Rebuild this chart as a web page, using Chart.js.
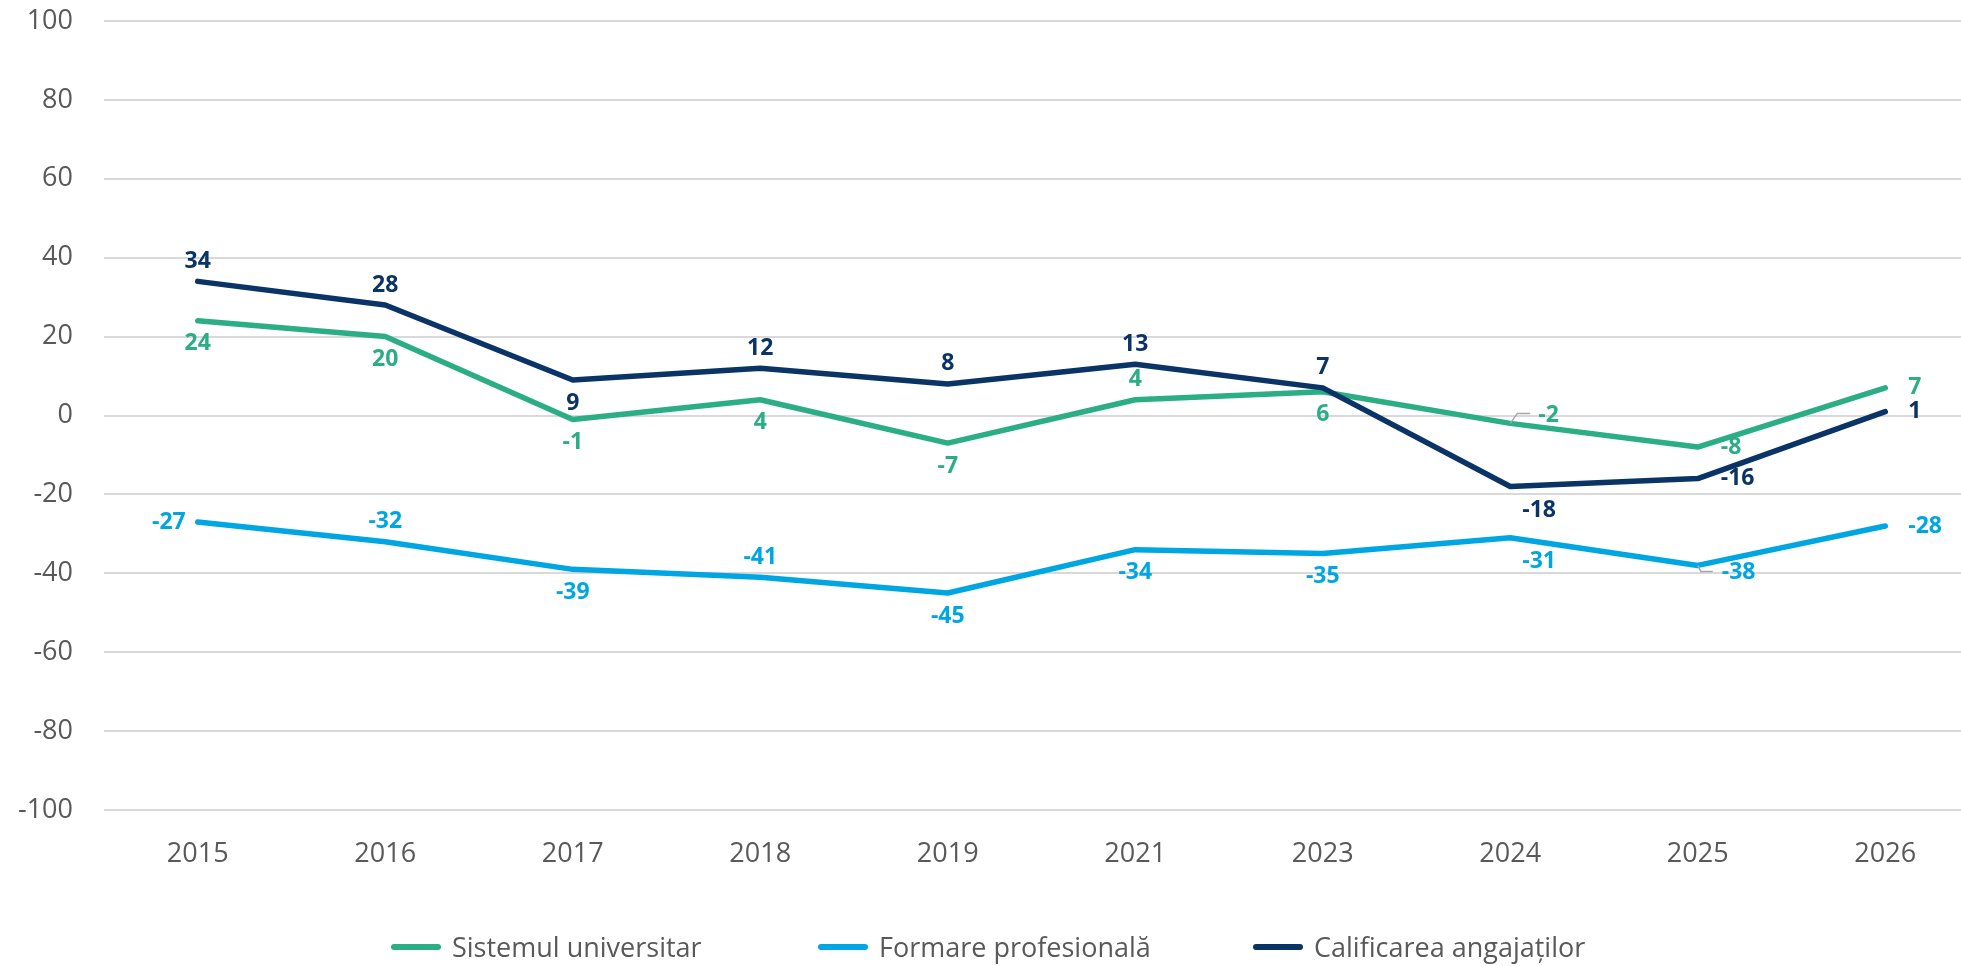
<!DOCTYPE html>
<html>
<head>
<meta charset="utf-8">
<script src="https://cdn.jsdelivr.net/npm/chart.js@4.4.1/dist/chart.umd.min.js"></script>
<style>
    html, body { margin: 0; padding: 0; background: #fff; }
    #wrap { position: relative; width: 1961px; height: 966px; overflow: hidden; }
    #chartBox { position: absolute; left: 0; top: 0; width: 1980px; height: 966px; }
    .lg-item { position: absolute; top: 928px; display: flex; align-items: center;
               font-family: "Open Sans", sans-serif; font-size: 27px; color: #595959; }
    .lg-line { width: 50px; height: 6px; border-radius: 3px; margin-right: 11px; }
</style>
</head>
<body>
<div id="wrap">
    <div id="chartBox"><canvas id="chart" width="1980" height="966"></canvas></div>
    <div id="legend"></div>
</div>

<script>
// ================== DATA ==================
const years = ["2015", "2016", "2017", "2018", "2019", "2021", "2023", "2024", "2025", "2026"];

const universitar  = [24, 20, -1, 4, -7, 4, 6, -2, -8, 7];
const profesionala = [-27, -32, -39, -41, -45, -34, -35, -31, -38, -28];
const calificarea  = [34, 28, 9, 12, 8, 13, 7, -18, -16, 1];

const yTicks = [100, 80, 60, 40, 20, 0, -20, -40, -60, -80, -100];

// where each data label sits relative to its point
const posUniversitar  = ["b", "b", "b", "b", "b", "a", "b", "ru", "r", "r"];
const posProfesionala = ["l", "a", "b", "a", "b", "b", "b", "br", "rd", "r"];
const posCalificarea  = ["a", "a", "b", "a", "a", "a", "a", "br", "r", "r"];

const series = [
    { label: "Sistemul universitar",    data: universitar,  color: "#2BAE84", pos: posUniversitar,  order: 1 },
    { label: "Formare profesională",    data: profesionala, color: "#00A6E2", pos: posProfesionala, order: 2 },
    { label: "Calificarea angajaților", data: calificarea,  color: "#0B3466", pos: posCalificarea,  order: 0 }
];

// ================== LEGEND (HTML) ==================
const legendLeft = [391, 818, 1253];
const legend = document.getElementById("legend");
series.forEach((s, i) => {
    let item = document.createElement("div");
    item.className = "lg-item";
    item.style.left = legendLeft[i] + "px";
    item.innerHTML = `<span class="lg-line" style="background:${s.color}"></span><span>${s.label}</span>`;
    legend.appendChild(item);
});

// ================== DATA LABELS PLUGIN ==================
const labelPlugin = {
    id: "pointLabels",
    afterDatasetsDraw(chart) {
        const ctx = chart.ctx;
        ctx.save();
        ctx.font = "bold 23px 'Open Sans', sans-serif";
        ctx.textBaseline = "middle";
        chart.data.datasets.forEach((ds, di) => {
            const meta = chart.getDatasetMeta(di);
            meta.data.forEach((pt, i) => {
                const txt = String(ds.data[i]);
                const p = ds.labelPos[i];
                let x = pt.x, y = pt.y, align = "center";
                if (p === "a")       { y -= 20; }
                else if (p === "b")  { y += 23; }
                else if (p === "l")  { x -= 12; align = "right"; }
                else if (p === "r")  { x += 23; align = "left"; }
                else if (p === "br") { x += 12; y += 24; align = "left"; }
                else if (p === "ru") {
                    ctx.strokeStyle = "#a6a6a6"; ctx.lineWidth = 1.5;
                    ctx.beginPath();
                    ctx.moveTo(pt.x, pt.y); ctx.lineTo(pt.x + 7, pt.y - 10); ctx.lineTo(pt.x + 20, pt.y - 10);
                    ctx.stroke();
                    x += 28; y -= 8; align = "left";
                }
                else if (p === "rd") {
                    ctx.strokeStyle = "#a6a6a6"; ctx.lineWidth = 1.5;
                    ctx.beginPath();
                    ctx.moveTo(pt.x, pt.y); ctx.lineTo(pt.x + 3, pt.y + 6); ctx.lineTo(pt.x + 15, pt.y + 6);
                    ctx.stroke();
                    x += 24; y += 7; align = "left";
                }
                ctx.textAlign = align;
                ctx.fillStyle = ds.borderColor;
                ctx.fillText(txt, x, y);
            });
        });
        ctx.restore();
    }
};

// ================== CHART ==================
new Chart(document.getElementById("chart"), {
    type: "line",
    data: {
        labels: years,
        datasets: series.map(s => ({
            label: s.label,
            data: s.data,
            borderColor: s.color,
            backgroundColor: s.color,
            borderWidth: 5.5,
            borderCapStyle: "round",
            borderJoinStyle: "round",
            pointRadius: 0,
            pointHoverRadius: 0,
            tension: 0,
            order: s.order,
            labelPos: s.pos
        }))
    },
    options: {
        responsive: false,
        animation: false,
        layout: { padding: { top: 21, right: 1, left: 0, bottom: 0 } },
        plugins: {
            legend: { display: false },
            tooltip: { enabled: false }
        },
        scales: {
            x: {
                offset: true,
                grid: { display: false, drawTicks: false },
                border: { display: false },
                ticks: {
                    color: "#595959",
                    font: { family: "'Open Sans', sans-serif", size: 27 },
                    padding: 28,
                    maxRotation: 0
                },
                afterFit: s => { s.height = 156; s.paddingLeft = 0; s.paddingRight = 0; }
            },
            y: {
                min: -100,
                max: 100,
                afterBuildTicks: s => { s.ticks = yTicks.map(v => ({ value: v })); },
                grid: { color: "#d9d9d9", lineWidth: 2, drawTicks: false },
                border: { display: false },
                ticks: {
                    color: "#595959",
                    font: { family: "'Open Sans', sans-serif", size: 27 },
                    padding: 31
                },
                afterFit: s => { s.width = 104; s.paddingTop = 0; s.paddingBottom = 0; }
            }
        }
    },
    plugins: [labelPlugin]
});
</script>
</body>
</html>
